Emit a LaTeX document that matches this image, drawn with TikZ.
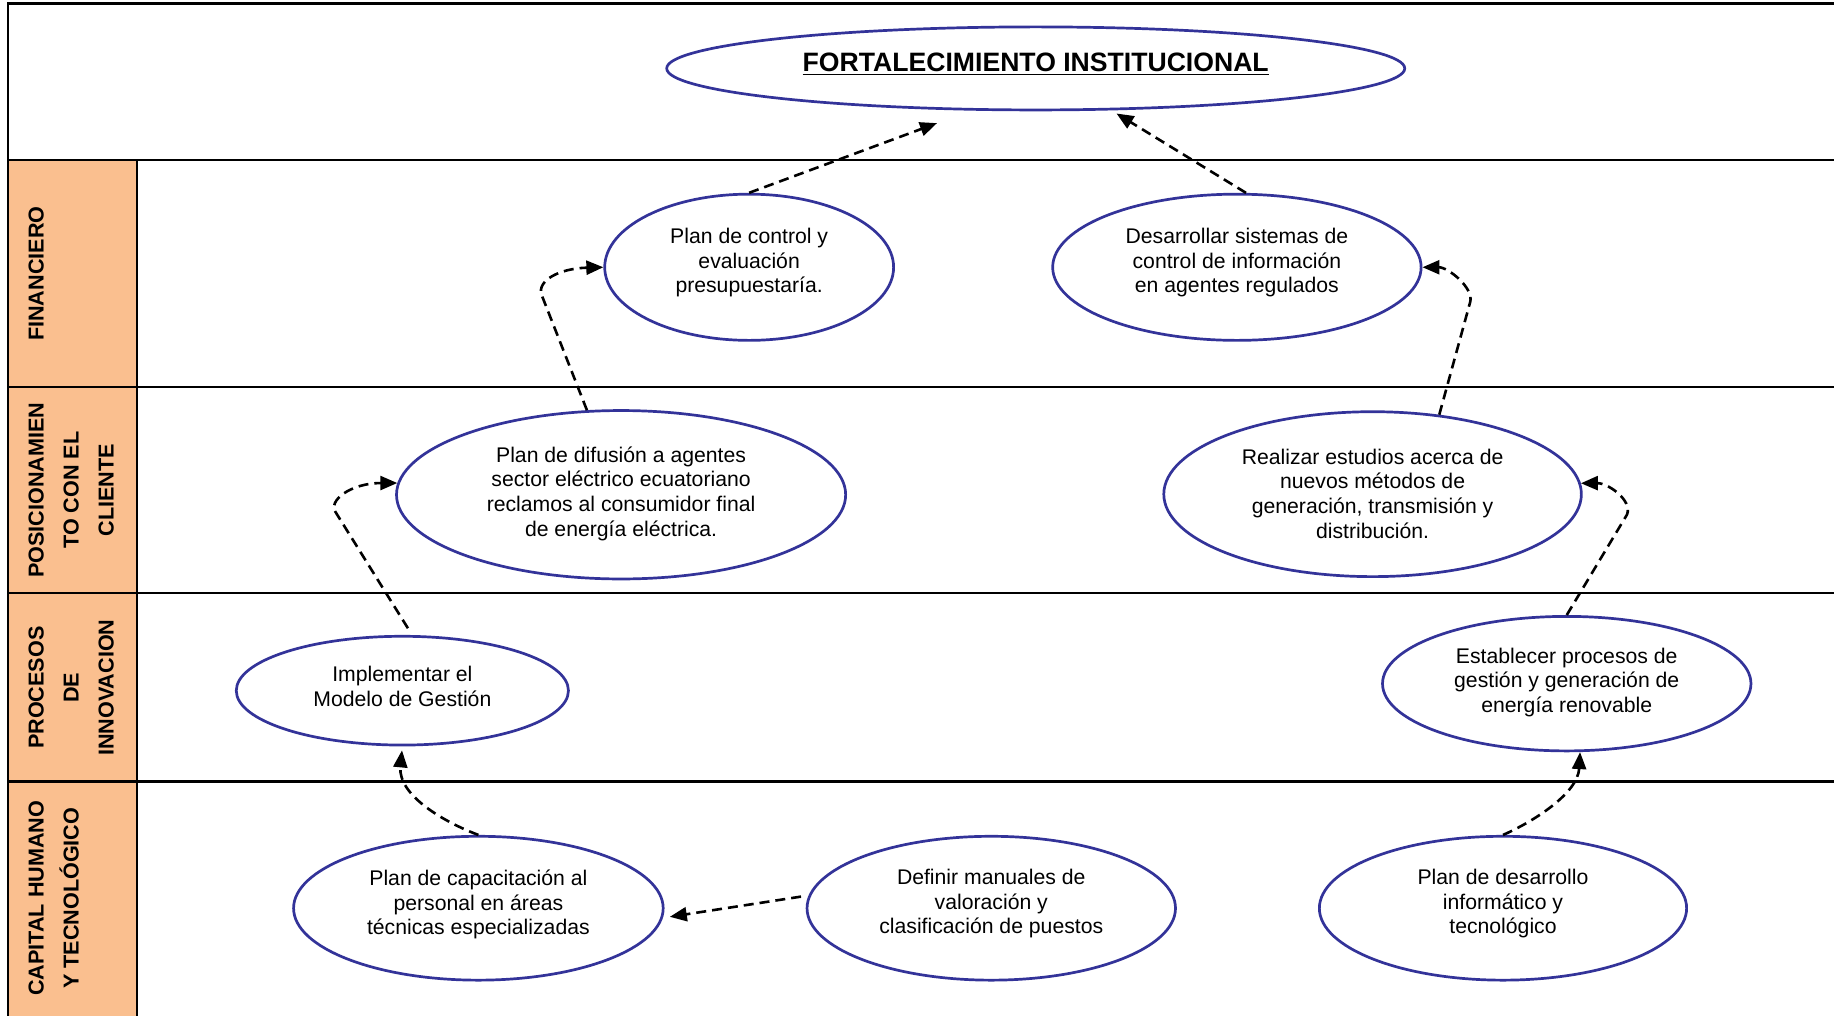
\documentclass[tikz,border=0pt]{standalone}
\usepackage{fontspec}
\setmainfont{Liberation Sans}
\usetikzlibrary{shapes.geometric,arrows.meta}
\definecolor{lanefill}{HTML}{FABF8F}
\definecolor{ovalblue}{RGB}{51,51,153}
\newcommand{\upx}{0.5848pt}

\begin{document}
\begin{tikzpicture}[x=0.5848pt,y=-0.5848pt,
  oval/.style={draw=ovalblue, line width=1.35pt, ellipse, inner sep=0pt, fill=white},
  ovaltext/.style={align=center, inner sep=0pt, font=\fontsize{10.6pt}{12.3pt}\selectfont},
  titletext/.style={inner sep=0pt, font=\bfseries\fontsize{13.3pt}{15pt}\selectfont},
  lanetitle/.style={rotate=90, anchor=north, align=center, inner sep=0pt,
                    font=\bfseries\fontsize{10.8pt}{17.5pt}\selectfont},
  frameline/.style={line width=1.2pt, draw=black},
  link/.style={draw=black, line width=1.3pt, dash pattern=on 5pt off 3pt,
               -{Triangle[length=8.5pt,width=7pt]}}
]
% page and clipping area
\path[use as bounding box, fill=white] (0,0) rectangle (1568,868);
\clip (0,0) rectangle (1568,868);

% lane header column and grid
\fill[lanefill] (7,137) rectangle (117,875);
\draw[frameline] (7,875) -- (7,3) -- (1575,3);
\foreach \yy in {137,331,507,668}
  \draw[frameline] (7,\yy) -- (1575,\yy);
\draw[frameline] (117,137) -- (117,875);

% lane titles
\node[lanetitle] (lane1) at (24,234) {FINANCIERO};
\node[lanetitle] (lane2) at (24,419) {POSICIONAMIEN\\TO CON EL\\CLIENTE};
\node[lanetitle] (lane3) at (24,588) {PROCESOS\\DE\\INNOVACION};
\node[lanetitle] (lane4) at (24,768) {CAPITAL HUMANO\\Y TECNOLÓGICO};

% objectives
\node[oval, minimum width=631*\upx, minimum height=71*\upx]  (n1)  at (885.5,58.5) {};
\node[oval, minimum width=247*\upx, minimum height=125*\upx] (n2)  at (640.5,228.5) {};
\node[oval, minimum width=315*\upx, minimum height=125*\upx] (n3)  at (1057.5,228.5) {};
\node[oval, minimum width=384*\upx, minimum height=144*\upx] (n4)  at (531,423) {};
\node[oval, minimum width=357*\upx, minimum height=141*\upx] (n5)  at (1173.5,422.5) {};
\node[oval, minimum width=284*\upx, minimum height=93*\upx]  (n6)  at (344,590.5) {};
\node[oval, minimum width=315*\upx, minimum height=115*\upx] (n7)  at (1339.5,584.5) {};
\node[oval, minimum width=316*\upx, minimum height=123*\upx] (n8)  at (409,776.5) {};
\node[oval, minimum width=315*\upx, minimum height=123*\upx] (n9)  at (847.5,776.5) {};
\node[oval, minimum width=314*\upx, minimum height=123*\upx] (n10) at (1285,776.5) {};

% objective texts
\node[titletext] (t1) at (885.5,55) {\underline{FORTALECIMIENTO INSTITUCIONAL}};
\node[ovaltext] (t2) at (640.5,224.5) {Plan de control y\\evaluación\\presupuestaría.};
\node[ovaltext] (t3) at (1057.5,224.5) {Desarrollar sistemas de\\control de información\\en agentes regulados};
\node[ovaltext] (t4) at (531,422) {Plan de difusión a agentes\\sector eléctrico ecuatoriano\\reclamos al consumidor final\\de energía eléctrica.};
\node[ovaltext] (t5) at (1173.5,422) {Realizar estudios acerca de\\nuevos métodos de\\generación, transmisión y\\distribución.};
\node[ovaltext] (t6) at (344,587) {Implementar el\\Modelo de Gestión};
\node[ovaltext] (t7) at (1339.5,583.5) {Establecer procesos de\\gestión y generación de\\energía renovable};
\node[ovaltext] (t8) at (409,773.5) {Plan de capacitación al\\personal en áreas\\técnicas especializadas};
\node[ovaltext] (t9) at (847.5,772.5) {Definir manuales de\\valoración y\\clasificación de puestos};
\node[ovaltext] (t10) at (1285,772.5) {Plan de desarrollo\\informático y\\tecnológico};

% cause-effect links
\draw[link, shorten >=18pt] (n2.north) -- (n1.213.6);
\draw[link, shorten >=3pt] (n3.83) -- (n1.-29.6);
\draw[link] (n4.112) -- (463,252) .. controls (459,240) and (478,229.5) .. (n2.west);
\draw[link] (n5.50) -- (1257,258) .. controls (1260,246) and (1238,228.5) .. (n3.east);
\draw[link, shorten <=4pt] (n6.80) -- (287,438) .. controls (280,428) and (300,413) .. (n4.177);
\draw[link] (n7.north) -- (1391,440) .. controls (1396,428) and (1375,413) .. (n5.3);
\draw[link, shorten >=2pt] (n8.north) .. controls (380,703) and (340,680) .. (n6.south);
\draw[link, shorten <=3.8pt, shorten >=3.5pt] (n9.176) -- (n8.-3.5);
\draw[link] (n10.north) .. controls (1312,702) and (1349,678) .. (n7.-79);
\end{tikzpicture}
\end{document}
